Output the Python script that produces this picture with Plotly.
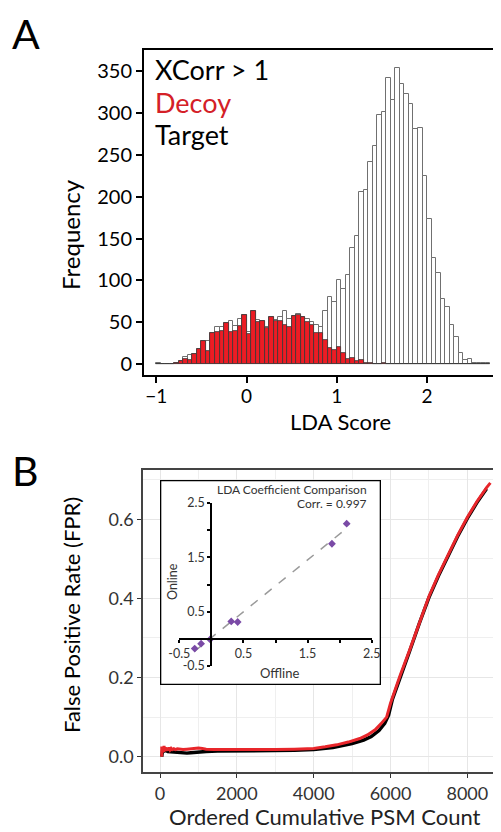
import numpy as np
import plotly.graph_objects as go

# The page body adds an 8px margin, so the figure is sized to the window minus it
OFF = 8
WIN_W, WIN_H = 501, 832
W, H = WIN_W - OFF, WIN_H - OFF
FONT = "Lato"

# ---------------- Panel A data: LDA score histogram ----------------
bin_start = -1.0
bin_width = 0.05
target_counts = [1, 0, 0, 0, 2, 4, 9, 11, 12, 18, 28, 28, 37, 45, 45, 49, 52, 46, 54, 59,
                 39, 64, 53, 52, 44, 57, 53, 57, 63, 54, 58, 60, 56, 54, 50, 47, 45, 64, 80, 74,
                 100, 90, 107, 139, 153, 205, 208, 241, 261, 297, 301, 342, 315, 354, 335, 323, 311, 281, 282, 225,
                 173, 127, 109, 78, 68, 47, 33, 14, 5, 6, 2, 1, 1, 1]
decoy_counts = [0, 0, 0, 0, 2, 4, 6, 5, 12, 18, 28, 16, 37, 38, 40, 49, 38, 40, 46, 59,
                36, 64, 50, 52, 43, 57, 52, 52, 47, 45, 58, 59, 56, 51, 47, 37, 37, 29, 20, 17,
                21, 13, 6, 8, 4, 5, 2, 2, 0, 0, 1, 0, 0, 0, 0, 0, 0, 0, 0, 0,
                0, 0, 0, 0, 0, 0, 0, 0, 0, 0, 0, 0, 0, 0]
hist_xticks = [-1, 0, 1, 2]
hist_yticks = [0, 50, 100, 150, 200, 250, 300, 350]

# ---------------- Panel B data: FPR curves ----------------
red_x = [45, 46, 60, 75, 90, 105, 120, 140, 160, 180,
         200, 230, 260, 290, 320, 360, 400, 450, 500, 600,
         700, 800, 900, 1000, 1100, 1200, 1400, 1600, 1800, 2000,
         2500, 3000, 3500, 4000, 4300, 4600, 4900, 5200, 5400, 5600,
         5750, 5900, 6000, 6100, 6250, 6500, 6750, 7000, 7250, 7500,
         7750, 8000, 8250, 8500, 8600]
red_y = [0.000, 0.026, 0.010, 0.024, 0.012, 0.027, 0.014, 0.024, 0.015, 0.022,
         0.016, 0.023, 0.017, 0.021, 0.018, 0.020, 0.018, 0.020, 0.019, 0.018,
         0.019, 0.020, 0.022, 0.022, 0.021, 0.019, 0.018, 0.018, 0.018, 0.018,
         0.017, 0.018, 0.019, 0.021, 0.025, 0.030, 0.037, 0.046, 0.055, 0.068,
         0.083, 0.100, 0.135, 0.165, 0.205, 0.270, 0.340, 0.405, 0.460, 0.510,
         0.560, 0.605, 0.645, 0.680, 0.692]
black_x = [45, 70, 100, 150, 200, 300, 400, 500, 600, 700,
           800, 900, 1000, 1200, 1500, 2000, 2500, 3000, 3500, 4000,
           4500, 5000, 5300, 5500, 5700, 5850, 5950, 6050, 6250, 6500,
           6750, 7000, 7250, 7500, 7750, 8000, 8250, 8500]
black_y = [0.000, 0.018, 0.014, 0.016, 0.013, 0.012, 0.011, 0.010, 0.009, 0.009,
           0.010, 0.011, 0.013, 0.013, 0.014, 0.014, 0.015, 0.015, 0.016, 0.018,
           0.023, 0.033, 0.042, 0.051, 0.066, 0.084, 0.105, 0.145, 0.202, 0.267,
           0.337, 0.402, 0.457, 0.507, 0.557, 0.602, 0.642, 0.677]
fpr_xticks = [0, 2000, 4000, 6000, 8000]
fpr_yticks = [0.0, 0.2, 0.4, 0.6]

# ---------------- Inset data: LDA coefficients ----------------
coef_offline = [-0.26, -0.16, -0.02, 0.31, 0.41, 1.88, 2.11]
coef_online = [-0.18, -0.09, -0.01, 0.32, 0.31, 1.75, 2.12]
inset_ticks = [-0.5, 0, 0.5, 1, 1.5, 2, 2.5]
inset_ticktext = ["-0.5", "", "0.5", "", "1.5", "", "2.5"]
corr_text = "Corr. = 0.997"


def px(x):
    return (x - OFF) / W


def py(y):
    return 1 - (y - OFF) / H


bin_centers = bin_start + bin_width * (np.arange(len(target_counts)) + 0.5)

# Window-pixel geometry
A_l, A_t, A_b = 144, 50, 375
B_l, B_t, B_b = 143.3, 470, 772.3
I_l, I_r, I_t, I_b = 179.3, 371.7, 503, 666
BOX_l, BOX_r, BOX_t, BOX_b = 160, 381, 480, 685

fig = go.Figure()

# Panel A bars
fig.add_trace(go.Bar(x=bin_centers, y=target_counts, width=bin_width,
                     marker=dict(color="white", line=dict(color="#707070", width=1)),
                     xaxis="x", yaxis="y", showlegend=False))
fig.add_trace(go.Bar(x=bin_centers, y=decoy_counts, width=bin_width,
                     marker=dict(color="#ec1c24", line=dict(color="#3a3a3a", width=0.8)),
                     xaxis="x", yaxis="y", showlegend=False))

# Panel B lines
fig.add_trace(go.Scatter(x=black_x, y=black_y, mode="lines",
                         line=dict(color="black", width=3.4), xaxis="x2", yaxis="y2", showlegend=False))
fig.add_trace(go.Scatter(x=red_x, y=red_y, mode="lines",
                         line=dict(color="#e8262b", width=3.0), xaxis="x2", yaxis="y2", showlegend=False))

# Inset frame (its own unit axes, drawn above panel B)
fig.add_trace(go.Scatter(x=[0, 1, 1, 0, 0], y=[0, 0, 1, 1, 0], mode="lines", fill="toself",
                         fillcolor="white", line=dict(color="black", width=2.6),
                         xaxis="x3", yaxis="y3", showlegend=False, hoverinfo="skip"))

# Inset data
slope, intercept = np.polyfit(coef_offline, coef_online, 1)
fit_x = np.array([min(coef_offline), max(coef_offline)])
fig.add_trace(go.Scatter(x=fit_x, y=slope * fit_x + intercept, mode="lines",
                         line=dict(color="#9a9a9a", width=1.5, dash="dash"),
                         xaxis="x4", yaxis="y4", showlegend=False))
fig.add_trace(go.Scatter(x=coef_offline, y=coef_online, mode="markers",
                         marker=dict(color="#7a4aa6", size=6, symbol="diamond"),
                         xaxis="x4", yaxis="y4", showlegend=False))

common = dict(automargin=False)

fig.update_layout(
    width=W, height=H, margin=dict(l=0, r=0, t=0, b=0, pad=0, autoexpand=False), autosize=False,
    paper_bgcolor="white", plot_bgcolor="white", barmode="overlay", bargap=0,
    font=dict(family=FONT, color="black"), showlegend=False,
    xaxis=dict(domain=[px(A_l), 1], range=[-1.137, 2.82], anchor="y",
               tickvals=hist_xticks, ticks="outside", ticklen=6, tickwidth=1.5, tickcolor="black",
               showline=True, linecolor="black", linewidth=2, mirror=True, ticklabelstandoff=-3,
               showgrid=False, zeroline=False, tickfont=dict(size=19, family=FONT, color="black"),
               **common),
    yaxis=dict(domain=[py(A_b), py(A_t)], range=[-12.8, 375], anchor="x",
               tickvals=hist_yticks, ticks="outside", ticklen=6, tickwidth=1.5, tickcolor="black",
               showline=True, linecolor="black", linewidth=2, mirror=False,
               showgrid=False, zeroline=False, tickfont=dict(size=20, family=FONT, color="black"),
               **common),
    xaxis2=dict(domain=[px(B_l), 1], range=[-435, 8876], anchor="y2",
                tickvals=fpr_xticks, ticks="outside", ticklen=4, tickcolor="#333",
                showline=True, linecolor="#444", linewidth=2, mirror=True,
                showgrid=True, gridcolor="#e6e6e6", gridwidth=1.4, zeroline=False,
                minor=dict(dtick=1000, tick0=0, showgrid=True, gridcolor="#efefef", gridwidth=0.8),
                tickfont=dict(size=18, family=FONT, color="#333"), **common),
    yaxis2=dict(domain=[py(B_b), py(B_t)], range=[-0.0394, 0.7245], anchor="x2",
                tickvals=fpr_yticks, tickformat=".1f", ticks="outside", ticklen=4, tickcolor="#333",
                showline=True, linecolor="#444", linewidth=2, mirror=False,
                showgrid=True, gridcolor="#e6e6e6", gridwidth=1.4, zeroline=False,
                minor=dict(dtick=0.1, tick0=0, showgrid=True, gridcolor="#efefef", gridwidth=0.8),
                tickfont=dict(size=18, family=FONT, color="#333"), **common),
    xaxis3=dict(domain=[px(BOX_l), px(BOX_r)], range=[0, 1], anchor="y3", visible=False,
                fixedrange=True, **common),
    yaxis3=dict(domain=[py(BOX_b), py(BOX_t)], range=[0, 1], anchor="x3", visible=False,
                fixedrange=True, **common),
    xaxis4=dict(domain=[px(I_l), px(I_r)], range=[-0.5, 2.5], anchor="free",
                position=py(I_b - (I_b - I_t) / 6),
                tickvals=inset_ticks, ticktext=inset_ticktext, ticks="outside", ticklen=3,
                tickwidth=2, tickcolor="black",
                showline=True, linecolor="black", linewidth=2.2, showgrid=False, zeroline=False,
                tickfont=dict(size=12.5, family=FONT, color="#333"), **common),
    yaxis4=dict(domain=[py(I_b), py(I_t)], range=[-0.5, 2.5], anchor="free",
                position=px(I_l + (I_r - I_l) / 6),
                tickvals=inset_ticks, ticktext=inset_ticktext, ticks="outside", ticklen=3,
                tickwidth=2, tickcolor="black",
                showline=True, linecolor="black", linewidth=2.2, showgrid=False, zeroline=False,
                tickfont=dict(size=12.5, family=FONT, color="#333"), **common),
)


def ann(text, x, y, size, color="black", xanchor="center", angle=0, yanchor="middle"):
    fig.add_annotation(text=text, x=px(x), y=py(y), xref="paper", yref="paper",
                       showarrow=False, xanchor=xanchor, yanchor=yanchor, textangle=angle,
                       font=dict(family=FONT, size=size, color=color))


ann("A", 10, 34, 41, xanchor="left")
ann("B", 10, 470, 41, xanchor="left")
ann("XCorr &gt; 1", 153, 69, 27, xanchor="left")
ann("Decoy", 153, 102, 27, color="#d42027", xanchor="left")
ann("Target", 153, 134, 27, xanchor="left")
ann("Frequency", 71, 235, 24, angle=-90)
ann("LDA Score", 340, 421, 22)
ann("False Positive Rate (FPR)", 71, 615, 22, angle=-90)
ann("Ordered Cumulative PSM Count", 325, 816, 22, color="#222")
ann("LDA Coefficient Comparison", 369, 489, 12, color="#333", xanchor="right")
ann(corr_text, 369, 504, 12, color="#333", xanchor="right")
ann("Online", 172, 582, 12.5, color="#333", angle=-90)
ann("Offline", 279, 673, 13, color="#333")

fig.write_html("out.html")
